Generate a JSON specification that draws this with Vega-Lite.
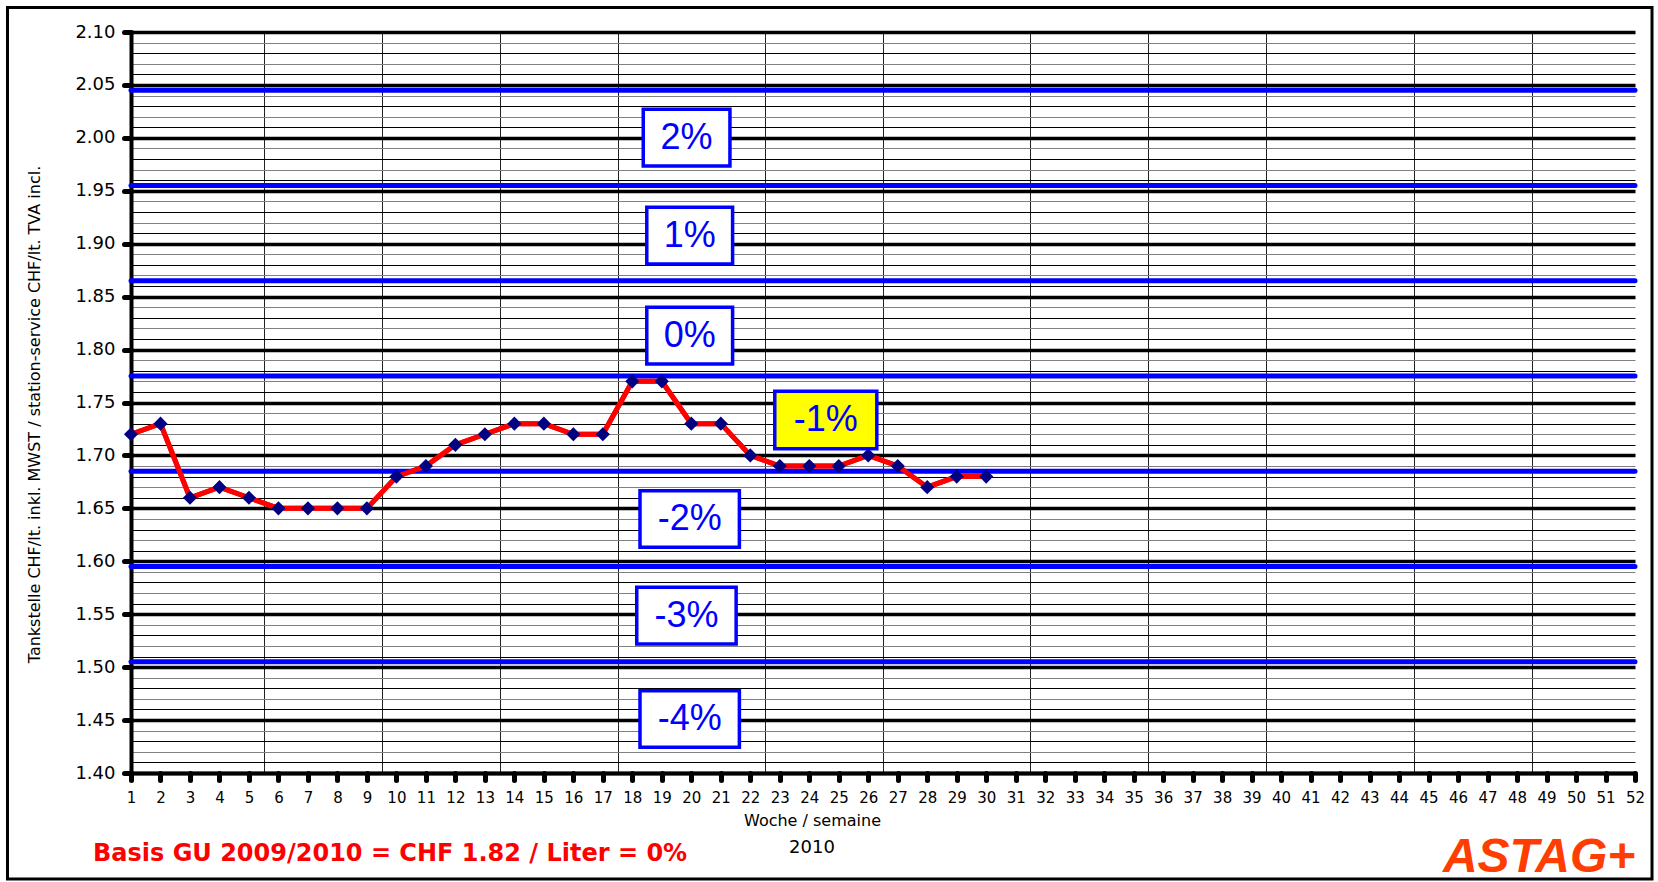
{
  "$schema": "https://vega.github.io/schema/vega-lite/v6.json",
  "width": 1504,
  "height": 741,
  "autosize": {"type": "none"},
  "padding": {"left": 131, "top": 32, "right": 23, "bottom": 109},
  "background": "white",
  "resolve": {"axis": {"x": "independent", "y": "independent"}},
  "config": {
    "view": {"stroke": null},
    "font": "DejaVu Sans",
    "axisX": {
      "labelFont": "DejaVu Sans", "labelFontSize": 15, "labelColor": "black", "labelPadding": 10,
      "labelOverlap": false, "labelFlush": false, "labelBound": false,
      "tickSize": 7, "tickWidth": 5, "tickColor": "black", "tickCap": "round",
      "domainColor": "black", "domainWidth": 4, "domainCap": "round",
      "titleFont": "DejaVu Sans", "titleFontSize": 16, "titleFontWeight": "normal", "titleColor": "black"
    },
    "axisY": {
      "labelFont": "DejaVu Sans", "labelFontSize": 18, "labelColor": "black", "labelPadding": 9,
      "labelOverlap": false, "labelFlush": false, "labelBound": false,
      "tickSize": 7, "tickWidth": 5, "tickColor": "black", "tickCap": "round",
      "domainColor": "black", "domainWidth": 4, "domainCap": "round",
      "titleFont": "DejaVu Sans", "titleFontSize": 16, "titleFontWeight": "normal", "titleColor": "black"
    }
  },
  "datasets": {
    "prices": [
      {"week": 1, "price": 1.72}, {"week": 2, "price": 1.73}, {"week": 3, "price": 1.66},
      {"week": 4, "price": 1.67}, {"week": 5, "price": 1.66}, {"week": 6, "price": 1.65},
      {"week": 7, "price": 1.65}, {"week": 8, "price": 1.65}, {"week": 9, "price": 1.65},
      {"week": 10, "price": 1.68}, {"week": 11, "price": 1.69}, {"week": 12, "price": 1.71},
      {"week": 13, "price": 1.72}, {"week": 14, "price": 1.73}, {"week": 15, "price": 1.73},
      {"week": 16, "price": 1.72}, {"week": 17, "price": 1.72}, {"week": 18, "price": 1.77},
      {"week": 19, "price": 1.77}, {"week": 20, "price": 1.73}, {"week": 21, "price": 1.73},
      {"week": 22, "price": 1.70}, {"week": 23, "price": 1.69}, {"week": 24, "price": 1.69},
      {"week": 25, "price": 1.69}, {"week": 26, "price": 1.70}, {"week": 27, "price": 1.69},
      {"week": 28, "price": 1.67}, {"week": 29, "price": 1.68}, {"week": 30, "price": 1.68}
    ],
    "bands": [
      {"level": 2.045}, {"level": 1.955}, {"level": 1.865}, {"level": 1.775},
      {"level": 1.685}, {"level": 1.595}, {"level": 1.505}
    ],
    "boxes": [
      {"label": "2%", "x0": 18.37, "x1": 21.31, "y0": 2.027, "y1": 1.9734, "cx": 19.84, "cy": 2.0, "current": false},
      {"label": "1%", "x0": 18.49, "x1": 21.40, "y0": 1.9344, "y1": 1.8808, "cx": 19.95, "cy": 1.9076, "current": false},
      {"label": "0%", "x0": 18.49, "x1": 21.40, "y0": 1.840, "y1": 1.7864, "cx": 19.95, "cy": 1.8131, "current": false},
      {"label": "-1%", "x0": 22.83, "x1": 26.29, "y0": 1.7606, "y1": 1.7064, "cx": 24.56, "cy": 1.7335, "current": true},
      {"label": "-2%", "x0": 18.26, "x1": 21.63, "y0": 1.6667, "y1": 1.6132, "cx": 19.95, "cy": 1.640, "current": false},
      {"label": "-3%", "x0": 18.15, "x1": 21.52, "y0": 1.5754, "y1": 1.5219, "cx": 19.84, "cy": 1.5486, "current": false},
      {"label": "-4%", "x0": 18.26, "x1": 21.63, "y0": 1.4778, "y1": 1.4243, "cx": 19.95, "cy": 1.451, "current": false}
    ]
  },
  "layer": [
    {
      "data": {"name": "prices"},
      "mark": {"type": "line", "color": "#FF0000", "strokeWidth": 5},
      "encoding": {
        "x": {
          "field": "week", "type": "quantitative",
          "scale": {"domain": [1, 52], "nice": false, "zero": false},
          "axis": {
            "values": [1,2,3,4,5,6,7,8,9,10,11,12,13,14,15,16,17,18,19,20,21,22,23,24,25,26,27,28,29,30,31,32,33,34,35,36,37,38,39,40,41,42,43,44,45,46,47,48,49,50,51,52,5.5,9.5,13.5,17.5,22.5,26.5,31.5,35.5,39.5,44.5,48.5],
            "labelExpr": "datum.value % 1 === 0 ? datum.label : ''",
            "labelOverlap": false,
            "labelFlush": false,
            "labelBound": false,
            "labelFontSize": 15,
            "labelPadding": 10,
            "tickSize": 7,
            "tickWidth": 5,
            "tickCap": "round",
            "tickOpacity": {"condition": {"test": "datum.value % 1 === 0", "value": 1}, "value": 0},
            "grid": true,
            "gridColor": "#222222",
            "gridWidth": 1,
            "gridOpacity": {"condition": {"test": "datum.value % 1 !== 0", "value": 1}, "value": 0},
            "domainWidth": 4,
            "title": "Woche / semaine",
            "titleFontSize": 16,
            "titleX": 681,
            "titleY": 47,
            "titleBaseline": "middle",
            "titleAlign": "center"
          }
        },
        "y": {
          "field": "price", "type": "quantitative",
          "scale": {"domain": [1.4, 2.1], "nice": false, "zero": false},
          "axis": {
            "values": [1.40,1.41,1.42,1.43,1.44,1.45,1.46,1.47,1.48,1.49,1.50,1.51,1.52,1.53,1.54,1.55,1.56,1.57,1.58,1.59,1.60,1.61,1.62,1.63,1.64,1.65,1.66,1.67,1.68,1.69,1.70,1.71,1.72,1.73,1.74,1.75,1.76,1.77,1.78,1.79,1.80,1.81,1.82,1.83,1.84,1.85,1.86,1.87,1.88,1.89,1.90,1.91,1.92,1.93,1.94,1.95,1.96,1.97,1.98,1.99,2.00,2.01,2.02,2.03,2.04,2.05,2.06,2.07,2.08,2.09,2.10],
            "format": ".2f",
            "labelExpr": "abs(datum.value*20 - round(datum.value*20)) < 0.001 ? datum.label : ''",
            "labelOverlap": false,
            "labelFlush": false,
            "labelBound": false,
            "labelFontSize": 18,
            "labelPadding": 9,
            "tickSize": 7,
            "tickWidth": 5,
            "tickCap": "round",
            "tickOpacity": {"condition": {"test": "abs(datum.value*20 - round(datum.value*20)) < 0.001", "value": 1}, "value": 0},
            "grid": true,
            "gridColor": {"condition": {"test": "round(datum.value*100) % 5 === 2 || round(datum.value*100) % 5 === 4", "value": "#808080"}, "value": "black"},
            "gridWidth": {"condition": {"test": "abs(datum.value*20 - round(datum.value*20)) < 0.001", "value": 3.5}, "value": 1.2},
            "domainWidth": 4,
            "title": "Tankstelle CHF/lt. inkl. MWST  /  station-service CHF/lt. TVA incl.",
            "titleFontSize": 16,
            "titleAngle": -90,
            "titleX": -97,
            "titleY": 382,
            "titleBaseline": "middle",
            "titleAlign": "center"
          }
        }
      }
    },
    {
      "data": {"values": [{"frame": "border"}]},
      "mark": {"type": "rect", "fillOpacity": 0, "stroke": "black", "strokeWidth": 3},
      "encoding": {
        "x": {"datum": -3.188, "type": "quantitative", "axis": null},
        "x2": {"datum": 52.577},
        "y": {"datum": 2.1231, "type": "quantitative", "axis": null},
        "y2": {"datum": 1.2999}
      }
    },
    {
      "data": {"name": "bands"},
      "mark": {"type": "rule", "color": "#0000FF", "strokeWidth": 5, "strokeCap": "round"},
      "encoding": {
        "y": {"field": "level", "type": "quantitative", "axis": null}
      }
    },
    {
      "data": {"name": "prices"},
      "mark": {"type": "line", "color": "#FF0000", "strokeWidth": 5},
      "encoding": {
        "x": {"field": "week", "type": "quantitative", "axis": null},
        "y": {"field": "price", "type": "quantitative", "axis": null}
      }
    },
    {
      "data": {"name": "prices"},
      "mark": {"type": "point", "shape": "diamond", "filled": true, "color": "#000080", "size": 200, "opacity": 1},
      "encoding": {
        "x": {"field": "week", "type": "quantitative", "axis": null},
        "y": {"field": "price", "type": "quantitative", "axis": null}
      }
    },
    {
      "data": {"name": "boxes"},
      "mark": {"type": "rect", "stroke": "#0000FF", "strokeWidth": 3.5},
      "encoding": {
        "x": {"field": "x0", "type": "quantitative", "axis": null},
        "x2": {"field": "x1"},
        "y": {"field": "y0", "type": "quantitative", "axis": null},
        "y2": {"field": "y1"},
        "fill": {"condition": {"test": "datum.current", "value": "#FFFF00"}, "value": "white"}
      }
    },
    {
      "data": {"name": "boxes"},
      "mark": {"type": "text", "color": "#0000FF", "fontSize": 36, "align": "center", "baseline": "middle", "font": "Liberation Sans"},
      "encoding": {
        "x": {"field": "cx", "type": "quantitative", "axis": null},
        "y": {"field": "cy", "type": "quantitative", "axis": null},
        "text": {"field": "label"}
      }
    },
    {
      "data": {"values": [{"note": "Basis GU 2009/2010 = CHF 1.82 / Liter = 0%"}]},
      "mark": {"type": "text", "color": "#FF0000", "fontSize": 24, "fontWeight": "bold", "align": "left", "baseline": "middle", "font": "DejaVu Sans"},
      "encoding": {
        "x": {"datum": -0.289, "type": "quantitative", "axis": null},
        "y": {"datum": 1.3235, "type": "quantitative", "axis": null},
        "text": {"field": "note"}
      }
    },
    {
      "data": {"values": [{"note": "2010"}]},
      "mark": {"type": "text", "color": "black", "fontSize": 18, "align": "center", "baseline": "middle", "font": "DejaVu Sans"},
      "encoding": {
        "x": {"datum": 24.09, "type": "quantitative", "axis": null},
        "y": {"datum": 1.3292, "type": "quantitative", "axis": null},
        "text": {"field": "note"}
      }
    },
    {
      "data": {"values": [{"note": "ASTAG+"}]},
      "mark": {"type": "text", "color": "#FF3D00", "fontSize": 48, "fontWeight": "bold", "fontStyle": "italic", "align": "center", "baseline": "alphabetic", "font": "Liberation Sans"},
      "encoding": {
        "x": {"datum": 48.75, "type": "quantitative", "axis": null},
        "y": {"datum": 1.3065, "type": "quantitative", "axis": null},
        "text": {"field": "note"}
      }
    }
  ]
}
